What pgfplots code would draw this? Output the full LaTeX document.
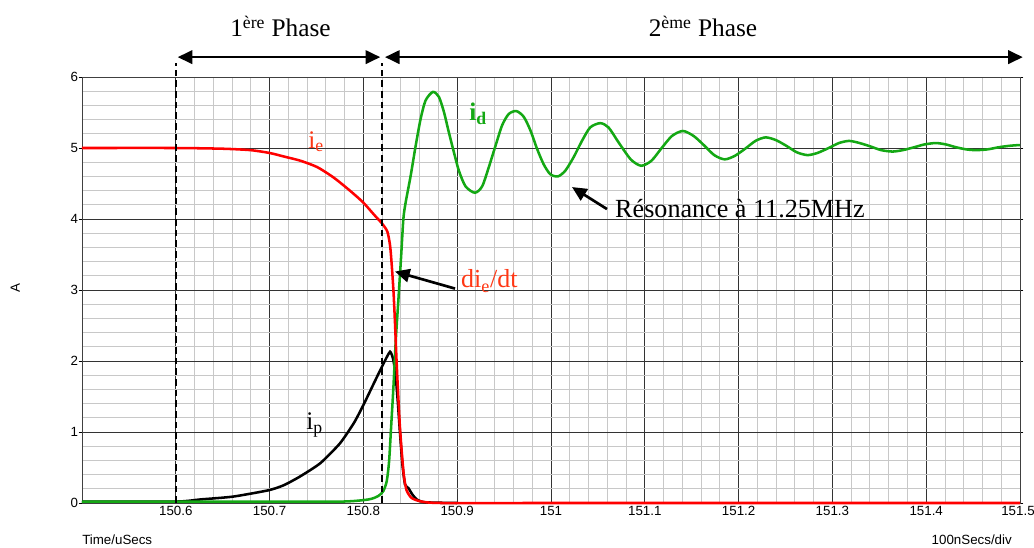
\documentclass[border=0pt]{standalone}
\usepackage{fontspec}
\setmainfont{Liberation Serif}
\newfontfamily\arialfont{Liberation Sans}
\usepackage{pgfplots}
\pgfplotsset{compat=1.18}
\usetikzlibrary{arrows.meta}

\definecolor{curvegreen}{RGB}{20,168,20}
\definecolor{labelred}{RGB}{255,55,20}
\definecolor{minorgrid}{RGB}{200,200,200}

% time is given in us minus 150 (so 0.834 means 150.834 us)
\begin{document}
\begin{tikzpicture}
\begin{axis}[
    scale only axis,
    width=703.5pt, height=319.5pt,
    xmin=0.5, xmax=1.5, ymin=0, ymax=6,
    clip=false,
    axis line style={black!75, line width=0.6pt},
    xtick={0.6,0.7,0.8,0.9,1.0,1.1,1.2,1.3,1.4,1.5},
    xticklabels={150.6,150.7,150.8,150.9,151,151.1,151.2,151.3,151.4,151.5\kern3pt},
    ytick={0,1,2,3,4,5,6},
    minor x tick num=4, minor y tick num=4,
    grid=both,
    major grid style={black!80, line width=0.6pt},
    minor grid style={minorgrid, line width=0.7pt},
    xtick style={draw=none},
    minor tick style={draw=none},
    ytick style={black, line width=0.6pt},
    tick align=outside,
    major tick length=2.5pt,
    /pgf/number format/assume math mode=true,
    ticklabel style={font=\arialfont\fontsize{10}{12}\selectfont, text=black},
    xticklabel style={yshift=3.5pt},
    yticklabel style={xshift=3pt},
]
% i_p (black)
\addplot[black, line width=1.9pt, smooth, tension=0.35] coordinates {
 (0.500,0.02) (0.600,0.02) (0.626,0.05) (0.661,0.09) (0.699,0.18)
 (0.715,0.25) (0.732,0.37) (0.754,0.56) (0.775,0.84) (0.790,1.13)
 (0.800,1.38) (0.8124,1.72) (0.8213,1.96) (0.8284,2.13) (0.8320,2.01)
 (0.8345,1.77) (0.8366,1.44) (0.8391,0.97) (0.8416,0.54) (0.8444,0.26)
 (0.8480,0.21) (0.8522,0.12) (0.8569,0.05) (0.8657,0.01) (0.900,0.00)
};
% i_d (green)
\addplot[curvegreen, line width=1.9pt, smooth, tension=0.45] coordinates {
 (0.500,0.02) (0.700,0.02) (0.7769,0.02) (0.8053,0.05) (0.8160,0.10)
 (0.8213,0.17) (0.8249,0.31) (0.8274,0.59) (0.8295,1.06) (0.8320,1.63)
 (0.8345,2.29) (0.8373,2.86) (0.8402,3.47) (0.8426,4.00) (0.8450,4.23)
 (0.8504,4.61) (0.8557,5.03) (0.8610,5.41) (0.8663,5.67) (0.8741,5.79)
 (0.8805,5.72) (0.8858,5.51) (0.8911,5.22) (0.8965,4.94) (0.9018,4.68)
 (0.9089,4.46) (0.9188,4.37) (0.9266,4.46) (0.9337,4.73) (0.9408,5.03)
 (0.9479,5.32) (0.9550,5.48) (0.9631,5.52) (0.9709,5.44) (0.9780,5.25)
 (0.9851,4.99) (0.9922,4.77) (0.9993,4.63) (1.0074,4.60) (1.0152,4.68)
 (1.0241,4.87) (1.0330,5.10) (1.0418,5.29) (1.0525,5.35) (1.0613,5.29)
 (1.0720,5.08) (1.0850,4.84) (1.0961,4.75) (1.1070,4.82) (1.1180,5.00)
 (1.1290,5.17) (1.1406,5.24) (1.1520,5.17) (1.1630,5.04) (1.1740,4.90)
 (1.1851,4.84) (1.1960,4.89) (1.2070,4.99) (1.2180,5.10) (1.2288,5.15)
 (1.2400,5.11) (1.2510,5.03) (1.2620,4.94) (1.2733,4.90) (1.2840,4.93)
 (1.2960,5.00) (1.3070,5.07) (1.3178,5.10) (1.3290,5.07) (1.3410,5.02)
 (1.3520,4.97) (1.3641,4.95) (1.3750,4.97) (1.3870,5.01) (1.3980,5.05)
 (1.4103,5.07) (1.4210,5.05) (1.4320,5.01) (1.4430,4.98) (1.4530,4.97)
 (1.4650,4.98) (1.4770,5.01) (1.4880,5.03) (1.4970,5.04) (1.5000,5.04)
};
% i_e (red)
\addplot[red, line width=1.9pt, smooth, tension=0.4] coordinates {
 (0.500,5.00) (0.600,5.00) (0.650,4.99) (0.6797,4.97) (0.700,4.93)
 (0.7153,4.88) (0.7331,4.82) (0.7509,4.73) (0.7687,4.58) (0.7865,4.39)
 (0.8000,4.23) (0.8114,4.06) (0.8203,3.93) (0.8256,3.82) (0.8285,3.62)
 (0.8305,3.30) (0.8322,2.95) (0.8338,2.50) (0.8352,2.05) (0.8368,1.60)
 (0.8388,1.10) (0.8410,0.70) (0.8432,0.38) (0.8460,0.18) (0.8515,0.07)
 (0.8622,0.02) (0.8835,0.00) (1.000,0.00) (1.500,0.00)
};

% phase markers
\draw[black, line width=1.4pt, dash pattern=on 5pt off 3pt] (axis cs:0.6,0) -- (axis cs:0.6,6.2);
\draw[black, line width=1.4pt, dash pattern=on 5pt off 3pt] (axis cs:0.82,0) -- (axis cs:0.82,6.2);
\draw[black, line width=2pt, {Triangle[length=11pt,width=10pt]}-{Triangle[length=11pt,width=10pt]}]
  (axis cs:0.602,6.28) -- (axis cs:0.818,6.28);
\draw[black, line width=2pt, {Triangle[length=11pt,width=10pt]}-{Triangle[length=11pt,width=10pt]}]
  (axis cs:0.823,6.28) -- (axis cs:1.503,6.28);
\node[anchor=base, font=\fontsize{19}{22}\selectfont] at (axis cs:0.7116,6.57) {1\textsuperscript{ère} Phase};
\node[anchor=base, font=\fontsize{19}{22}\selectfont] at (axis cs:1.162,6.57) {2\textsuperscript{ème} Phase};

% curve labels
\node[anchor=base west, inner sep=0pt, text=labelred, font=\fontsize{19}{22}\selectfont] at (axis cs:0.741,5.0) {i\textsubscript{e}};
\node[anchor=base west, inner sep=0pt, text=curvegreen, font=\bfseries\fontsize{19}{22}\selectfont] at (axis cs:0.9126,5.39) {i\textsubscript{d}};
\node[anchor=base west, inner sep=0pt, text=black, font=\fontsize{19}{22}\selectfont] at (axis cs:0.7388,1.03) {i\textsubscript{p}};
\node[anchor=base west, inner sep=0pt, text=labelred, font=\fontsize{19.5}{22}\selectfont] at (axis cs:0.904,3.03) {di\textsubscript{e}/dt};
\draw[black, line width=2pt, -{Triangle[length=11pt,width=10pt]}] (axis cs:0.8977,3.02) -- (axis cs:0.8337,3.26);
\node[anchor=base west, inner sep=0pt, text=black, font=\fontsize{19.6}{22}\selectfont] at (axis cs:1.0682,4.02) {Résonance à 11.25MHz};
\draw[black, line width=2pt, -{Triangle[length=11pt,width=10pt]}] (axis cs:1.0597,4.14) -- (axis cs:1.0224,4.45);

% axis captions
\node[anchor=west, inner sep=0pt, font=\arialfont\fontsize{10}{12}\selectfont] at (axis cs:0.5,-0.52) {Time/uSecs};
\node[anchor=east, inner sep=0pt, font=\arialfont\fontsize{10}{12}\selectfont] at (axis cs:1.4915,-0.52) {100nSecs/div};
\node[rotate=90, inner sep=0pt, font=\arialfont\fontsize{10}{12}\selectfont] at (axis cs:0.429,3.03) {A};
\end{axis}
\pgfresetboundingbox
\path[use as bounding box] (-61.5pt,-33pt) rectangle (714pt,377.25pt);
\end{tikzpicture}
\end{document}
